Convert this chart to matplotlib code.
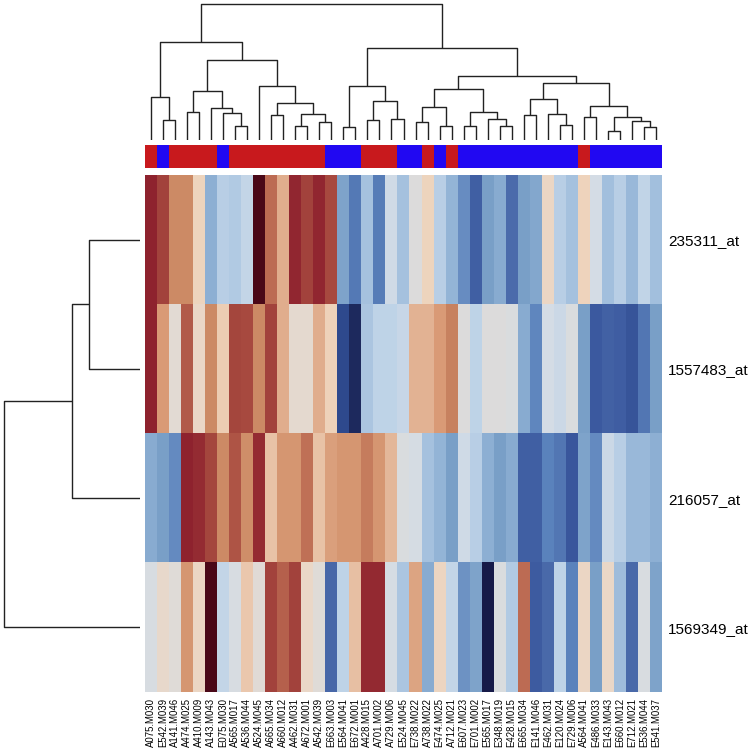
import numpy as np
import matplotlib
matplotlib.use('Agg')
import matplotlib.pyplot as plt
from matplotlib.colors import LinearSegmentedColormap, ListedColormap

plt.rcParams['font.family'] = ['Liberation Sans', 'DejaVu Sans']

# --- data -------------------------------------------------------------------
samples = ['A075.M030', 'E542.M039', 'A141.M046', 'A474.M025', 'A410.M009',
           'A143.M043', 'E075.M030', 'A565.M017', 'A536.M044', 'A524.M045',
           'A665.M034', 'A660.M012', 'A462.M031', 'A672.M001', 'A542.M039',
           'E663.M003', 'E564.M041', 'E672.M001', 'A428.M015', 'A701.M002',
           'A729.M006', 'E524.M045', 'E738.M022', 'A738.M022', 'E474.M025',
           'A712.M021', 'E607.M023', 'E701.M002', 'E565.M017', 'E348.M019',
           'E428.M015', 'E665.M034', 'E141.M046', 'E462.M031', 'E120.M024',
           'E729.M006', 'A564.M041', 'E486.M033', 'E143.M043', 'E660.M012',
           'E712.M021', 'E536.M044', 'E541.M037']
genes = ['235311_at', '1557483_at', '216057_at', '1569349_at']

expr_235311 = [2.4, 1.9, 1.2, 1.2, 0.4, -0.8, -0.45, -0.5, -0.35, 3.0,
               1.5, 0.8, 2.3, 1.9, 2.3, 1.8, -0.95, -1.65, -0.6, -1.6,
               -0.2, -0.6, 0.0, 0.4, -0.45, -0.75, -1.25, -2.15, -1.0, -0.85,
               -1.85, -1.0, -0.9, 0.3, -0.45, -0.6, 0.42, -0.15, -0.62, -0.45,
               -0.7, -0.38, -0.62]
expr_1557483 = [2.4, 1.0, 0.1, 1.65, 0.25, 1.2, 0.5, 1.85, 1.8, 1.2,
                1.9, 0.8, 0.15, 0.15, 0.8, 0.45, -2.6, -3.0, -0.55, -0.4,
                -0.42, -0.3, 0.75, 0.75, 1.0, 1.3, 0.0, -0.4, 0.0, 0.02,
                -0.05, -0.85, -1.4, -0.15, -0.25, -0.05, -1.0, -2.3, -2.1, -2.2,
                -2.4, -1.7, -1.0]
expr_216057 = [-0.85, -1.0, -1.3, 2.4, 2.2, 1.85, 1.2, 1.7, 1.15, 2.2,
               0.6, 1.05, 1.05, 1.45, 0.6, 0.95, 1.05, 1.05, 1.35, 1.05,
               0.7, -0.05, -0.12, -0.6, -0.75, -1.0, -0.2, -0.45, -0.8, -1.0,
               -0.85, -2.15, -2.15, -1.5, -1.7, -2.35, -0.95, -1.3, -0.25, -0.45,
               -0.7, -0.7, -0.8]
expr_1569349 = [-0.08, 0.2, 0.05, 1.05, 0.3, 3.0, -0.35, -0.1, 0.55, 0.08,
                1.9, 1.6, 1.9, 0.25, 0.05, -1.95, -0.42, 0.62, 2.25, 2.25,
                -0.12, -0.55, 0.9, -0.85, 0.35, -0.35, -1.15, -0.95, -3.3, -0.05,
                -0.5, 1.5, -2.25, -1.9, -0.4, -1.5, 0.3, -1.0, 0.25, -0.65,
                -1.9, -0.07, -0.95]

# column tree: merge i creates node 43+i from (left, right) at height
col_left = [1, 0, 3, 7, 6, 5, 45, 10, 12, 14, 51, 50, 9, 49, 44,
            16, 18, 20, 59, 58, 22, 24, 63, 26, 29, 28, 66, 65, 31, 34,
            33, 71, 36, 38, 41, 40, 76, 75, 74, 70, 62, 57]
col_right = [2, 43, 4, 8, 46, 47, 48, 11, 13, 15, 52, 53, 54, 55, 56,
             17, 19, 21, 60, 61, 23, 25, 64, 27, 30, 67, 68, 69, 32, 35,
             72, 73, 37, 39, 42, 77, 78, 79, 80, 81, 82, 83]
col_height = [20, 43, 28.3, 14, 26.7, 31.7, 48.7, 25, 14, 18.3, 26.3, 36.7, 54, 80, 97.7,
              13.3, 19.7, 20.7, 39.3, 54.3, 18.3, 14, 33.3, 14.3, 14.3, 21, 28, 51, 25, 15,
              25.7, 41, 22.7, 8.7, 12.7, 19.3, 22.7, 34, 56.7, 64, 92.3, 136]

# row tree
row_left = [0, 4, 5]
row_right = [1, 2, 3]
row_height = [51, 68, 136]

# --- colours ----------------------------------------------------------------
anchor_vals = [-3.3, -3.0, -2.6, -2.3, -1.9, -1.5, -1.2, -1.0, -0.8, -0.6, -0.4,
               -0.15, 0.0, 0.25, 0.45, 0.7, 1.0, 1.2, 1.5, 1.8, 2.2, 2.5, 3.0]
anchor_cols = ['#161a48', '#1e2a5e', '#2f4a8e', '#3c5aa0', '#4a6aaa', '#5a82bc',
               '#6a8ec2', '#7aa0c8', '#8eb0d4', '#a6c2df', '#c0d4e8', '#d4dce6',
               '#dcdcdc', '#ead8c8', '#efd3bb', '#e4b89a', '#d99a76', '#cc8a65',
               '#be6e55', '#a84b40', '#952c33', '#8b1e2c', '#4a0818']
vmin, vmax = anchor_vals[0], anchor_vals[-1]
cmap = LinearSegmentedColormap.from_list(
    'expr', [((v - vmin) / (vmax - vmin), c) for v, c in zip(anchor_vals, anchor_cols)])

W, H = 750, 749


def rect(x0, y0, x1, y1):
    return [x0 / W, (H - y1) / H, (x1 - x0) / W, (y1 - y0) / H]


def draw_tree(ax, left, right, heights, n, horizontal=False):
    pos = {i: i + 0.5 for i in range(n)}
    hgt = {i: 0.0 for i in range(n)}
    for k, (a, b, h) in enumerate(zip(left, right, heights)):
        xs = [pos[a], pos[a], pos[b], pos[b]]
        ys = [hgt[a], h, h, hgt[b]]
        if horizontal:
            ax.plot(ys, xs, color='#222222', lw=1.0, solid_capstyle='butt')
        else:
            ax.plot(xs, ys, color='#222222', lw=1.0, solid_capstyle='butt')
        pos[n + k] = (pos[a] + pos[b]) / 2
        hgt[n + k] = h
    ax.set_axis_off()


fig = plt.figure(figsize=(W / 100, H / 100), dpi=100)

data = np.array([expr_235311, expr_1557483, expr_216057, expr_1569349])
n_col = len(samples)
n_row = len(genes)

# heatmap
ax = fig.add_axes(rect(145, 175, 662, 692))
ax.imshow(data, cmap=cmap, vmin=vmin, vmax=vmax, aspect='auto',
          interpolation='nearest', extent=(0, n_col, n_row, 0))
ax.set_xticks(np.arange(n_col) + 0.5)
ax.set_xticklabels(samples, rotation=90, fontsize=6.9)
ax.set_yticks(np.arange(n_row) + 0.5)
ax.set_yticklabels(genes, fontsize=11)
ax.yaxis.tick_right()
ax.tick_params(length=0, pad=4.2)
for s in ax.spines.values():
    s.set_visible(False)

# sample group strip
groups = [0 if s.startswith('A') else 1 for s in samples]
axc = fig.add_axes(rect(145, 145, 662, 168))
axc.imshow([groups], cmap=ListedColormap(['#c8191d', '#2108f2']), vmin=0, vmax=1,
           aspect='auto', interpolation='nearest', extent=(0, n_col, 1, 0))
axc.set_axis_off()

# column dendrogram
axd = fig.add_axes(rect(145, 0, 662, 140))
draw_tree(axd, col_left, col_right, col_height, n_col)
axd.set_xlim(0, n_col)
axd.set_ylim(0, 140)

# row dendrogram
axr = fig.add_axes(rect(0, 175, 140, 692))
draw_tree(axr, row_left, row_right, row_height, n_row, horizontal=True)
axr.set_xlim(140, 0)
axr.set_ylim(n_row, 0)

fig.savefig('out.png', dpi=100)
